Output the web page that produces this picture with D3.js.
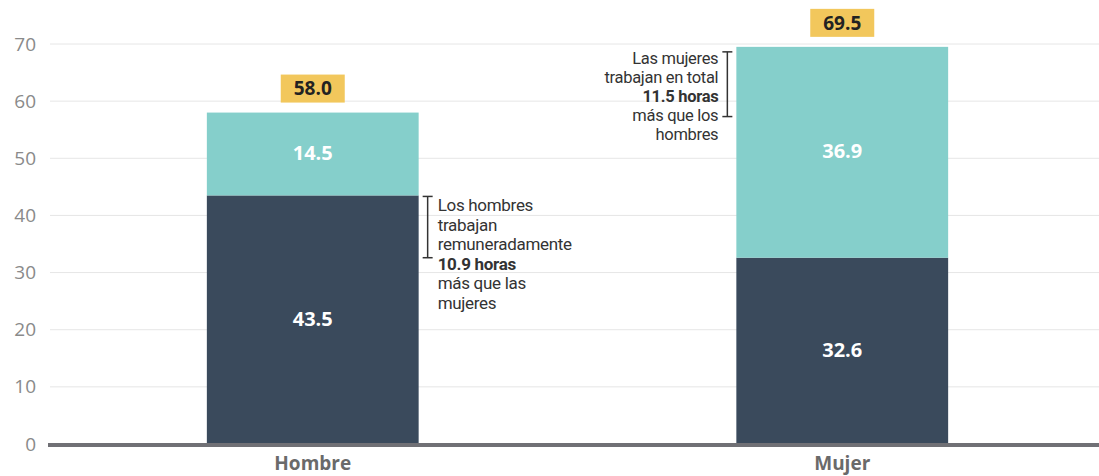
<!DOCTYPE html>
<html><head><meta charset="utf-8">
<script src="https://cdn.jsdelivr.net/npm/d3@7"></script>
<style>html,body{margin:0;padding:0;background:#fff;}svg{display:block;}</style>
</head><body>
<svg id="chart" width="1099" height="476"></svg>
<script>
const categories = ["Hombre", "Mujer"];
const remunerado = [43.5, 32.6];
const noRemunerado = [14.5, 36.9];
const totals = [58.0, 69.5];
const yTicks = [0, 10, 20, 30, 40, 50, 60, 70];
const note1 = ["Los hombres", "trabajan", "remuneradamente", "10.9 horas", "más que las", "mujeres"];
const note2 = ["Las mujeres", "trabajan en total", "11.5 horas", "más que los", "hombres"];

const svg = d3.select("#chart");
const y = d3.scaleLinear().domain([0, 70]).range([444, 44]);
const x = d3.scaleBand().domain(categories).range([48, 1107]).paddingInner(0.6).paddingOuter(0.3);

// grid
svg.append("g").selectAll("line").data(yTicks.filter(d => d > 0)).join("line")
  .attr("x1", 50).attr("x2", 1099).attr("y1", d => y(d)).attr("y2", d => y(d))
  .attr("stroke", "#e6e6e6").attr("stroke-width", 1);

// y axis labels
const yAxis = d3.axisLeft(y).tickValues(yTicks).tickSize(0).tickPadding(0);
const ya = svg.append("g").attr("transform", "translate(36,0)").call(yAxis);
ya.select(".domain").remove();
ya.selectAll("text").attr("font-family", "Open Sans").attr("font-size", 19).attr("fill", "#8a8a8a");

const stackData = categories.map((c, i) => ({cat: c, rem: remunerado[i], norem: noRemunerado[i]}));
const series = d3.stack().keys(["rem", "norem"])(stackData);
const colors = {rem: "#3a4a5c", norem: "#85cfcb"};

series.forEach(s => {
  svg.append("g").selectAll("rect").data(s).join("rect")
    .attr("x", d => x(d.data.cat)).attr("width", x.bandwidth())
    .attr("y", d => y(d[1])).attr("height", d => y(d[0]) - y(d[1]))
    .attr("fill", colors[s.key]);
  svg.append("g").selectAll("text").data(s).join("text")
    .attr("x", d => x(d.data.cat) + x.bandwidth() / 2)
    .attr("y", d => y((d[0] + d[1]) / 2) - 1)
    .attr("dy", "0.35em").attr("text-anchor", "middle")
    .attr("font-family", "Open Sans").attr("font-weight", "bold").attr("font-size", 20)
    .attr("fill", "#ffffff").text(d => (d[1] - d[0]).toFixed(1));
});

// baseline
svg.append("line").attr("x1", 48).attr("x2", 1099).attr("y1", y(0) + 1).attr("y2", y(0) + 1)
  .attr("stroke", "#707075").attr("stroke-width", 4);

// x labels
const xAxis = d3.axisBottom(x).tickSize(0).tickPadding(0);
const xa = svg.append("g").attr("transform", "translate(0," + (y(0) + 12) + ")").call(xAxis);
xa.select(".domain").remove();
xa.selectAll("text").attr("font-family", "Open Sans").attr("font-weight", "bold")
  .attr("font-size", 19).attr("fill", "#6a6a6a").attr("dy", "0.71em");

// totals
totals.forEach((t, i) => {
  const cx = x(categories[i]) + x.bandwidth() / 2;
  const by = y(t) - 10;
  svg.append("rect").attr("x", cx - 32).attr("y", by - 28).attr("width", 64).attr("height", 28)
    .attr("fill", "#f2c75c");
  svg.append("text").attr("x", cx).attr("y", by - 14).attr("dy", "0.36em")
    .attr("text-anchor", "middle").attr("font-family", "Open Sans").attr("font-weight", "bold")
    .attr("font-size", 19).attr("fill", "#222").text(t.toFixed(1));
});

function bracket(bx, y1, y2) {
  const g = svg.append("g").attr("stroke", "#333").attr("stroke-width", 1.5);
  g.append("line").attr("x1", bx).attr("x2", bx).attr("y1", y1).attr("y2", y2);
  g.append("line").attr("x1", bx - 5).attr("x2", bx + 5).attr("y1", y1).attr("y2", y1);
  g.append("line").attr("x1", bx - 5).attr("x2", bx + 5).attr("y1", y2).attr("y2", y2);
}

// annotation 1
const bx1 = x("Hombre") + x.bandwidth() + 9;
bracket(bx1, y(remunerado[0]) + 1, y(remunerado[1]));
const t1 = svg.append("text").attr("font-family", "Roboto, Arial, sans-serif").attr("font-size", 17)
  .attr("letter-spacing", -0.3).attr("fill", "#333");
note1.forEach((l, i) => {
  t1.append("tspan").attr("x", bx1 + 10).attr("y", 205 + i * 19.6).attr("dy", "0.35em")
    .attr("font-weight", i === 3 ? "bold" : "normal").text(l);
});

// annotation 2
const bx2 = x("Mujer") - 9;
bracket(bx2, y(totals[1]) + 5, y(totals[0]) + 4);
const t2 = svg.append("text").attr("font-family", "Roboto, Arial, sans-serif").attr("font-size", 16.5)
  .attr("letter-spacing", -0.3).attr("fill", "#333").attr("text-anchor", "end");
note2.forEach((l, i) => {
  t2.append("tspan").attr("x", bx2 - 9).attr("y", 58 + i * 19).attr("dy", "0.35em")
    .attr("font-weight", i === 2 ? "bold" : "normal").text(l);
});
</script>
</body></html>
